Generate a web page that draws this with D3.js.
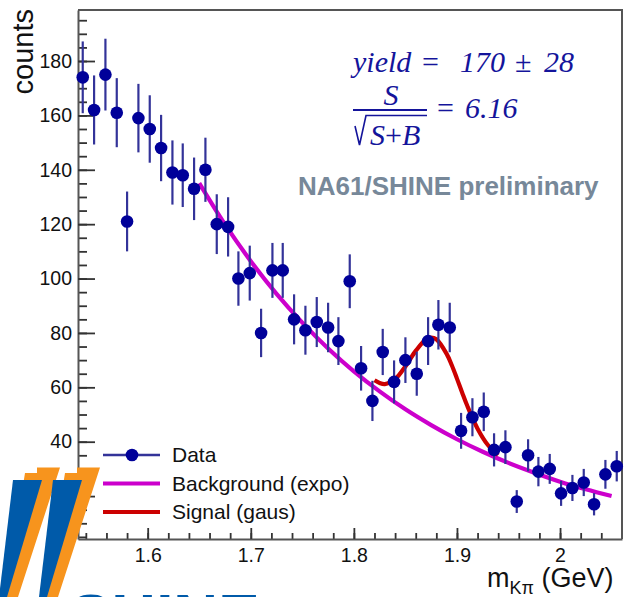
<!DOCTYPE html>
<html>
<head>
<meta charset="utf-8">
<script src="https://cdn.jsdelivr.net/npm/d3@7"></script>
<style>
  body { margin: 0; background: #fff; }
  svg { display: block; }
</style>
</head>
<body>
<svg id="chart" width="626" height="597"></svg>
<script>
// invariant mass bins (GeV) and counts
const massBins = [1.537, 1.548, 1.559, 1.570, 1.580, 1.591, 1.602, 1.613, 1.624, 1.634,
                  1.645, 1.656, 1.667, 1.678, 1.688, 1.699, 1.710, 1.721, 1.731, 1.742,
                  1.753, 1.764, 1.775, 1.785, 1.796, 1.807, 1.818, 1.828, 1.839, 1.850,
                  1.861, 1.872, 1.882, 1.893, 1.904, 1.915, 1.926, 1.936, 1.947, 1.958,
                  1.969, 1.979, 1.990, 2.001, 2.012, 2.023, 2.033, 2.044, 2.055];
const counts = [174, 162, 175, 161, 121, 159, 155, 148, 139, 138,
                133, 140, 120, 119, 100, 102, 80, 103, 103, 85,
                81, 84, 82, 77, 99, 67, 55, 73, 62, 70,
                65, 77, 83, 82, 44, 49, 51, 37, 38, 18,
                35, 29, 30, 21, 23, 25, 17, 28, 31];
const countErrors = [13.2, 12.7, 13.2, 12.7, 11.0, 12.6, 12.4, 12.2, 11.8, 11.7,
                     11.5, 11.8, 11.0, 10.9, 10.0, 10.1, 8.9, 10.1, 10.1, 9.2,
                     9.0, 9.2, 9.1, 8.8, 9.9, 8.2, 7.4, 8.5, 7.9, 8.4,
                     8.1, 8.8, 9.1, 9.1, 6.6, 7.0, 7.1, 6.1, 6.2, 4.2,
                     5.9, 5.4, 5.5, 4.6, 4.8, 5.0, 4.1, 5.3, 5.6];

// background (expo) curve
const bgMass = [1.65, 1.675, 1.70, 1.725, 1.75, 1.775, 1.80, 1.825, 1.85,
                1.875, 1.90, 1.925, 1.95, 1.975, 2.00, 2.025, 2.05];
const bgCounts = [135.1, 119.9, 106.4, 94.4, 83.8, 74.3, 65.9, 58.5, 51.9,
                  46.1, 40.9, 36.3, 32.2, 28.6, 25.3, 22.5, 20.0];

// signal (gaus + background) curve
const sigMass = [1.82, 1.825, 1.83, 1.84, 1.85, 1.86, 1.87, 1.875, 1.88, 1.89, 1.895,
                 1.90, 1.905, 1.91, 1.92, 1.93, 1.94];
const sigCounts = [62.6, 61.6, 61.2, 63.0, 67.7, 73.4, 77.7, 78.3, 77.7, 72.3, 68.1,
                   63.2, 58.1, 53.2, 44.8, 38.8, 35.1];

const xTicks = [1.6, 1.7, 1.8, 1.9, 2.0];
const xTickLabels = ["1.6", "1.7", "1.8", "1.9", "2"];
const yTicks = [20, 40, 60, 80, 100, 120, 140, 160, 180];

const legendLabels = ["Data", "Background (expo)", "Signal (gaus)"];

const margin = {left: 78, top: 10, right: 4, bottom: 58};
const W = 626, H = 597;
const pw = W - margin.left - margin.right;
const ph = H - margin.top - margin.bottom;

const sans = "'Liberation Sans', Arial, sans-serif";
const serif = "'Liberation Serif', 'Times New Roman', serif";
const navy = "#000099";
const textBlue = "#14149b";

const svg = d3.select('#chart');

const xScale = d3.scaleLinear().domain([1.5324, 2.0601]).range([0, pw]);
const yScale = d3.scaleLinear().domain([4.22, 198.76]).range([ph, 0]);

const g = svg.append('g').attr('transform', `translate(${margin.left},${margin.top})`);

// frame (top and right)
g.append('path')
    .attr('d', `M0,0H${pw}V${ph}`)
    .attr('fill', 'none')
    .attr('stroke', '#555')
    .attr('stroke-width', 2);

// minor ticks
g.append('g')
    .call(d3.axisLeft(yScale).tickValues(d3.range(5, 199, 5)).tickSize(-9).tickFormat(''))
    .call(s => s.select('.domain').remove())
    .call(s => s.selectAll('line').attr('stroke', '#333').attr('stroke-width', 1.8));
g.append('g')
    .attr('transform', `translate(0,${ph})`)
    .call(d3.axisBottom(xScale).tickValues(d3.range(1.54, 2.06, 0.02)).tickSize(-6).tickFormat(''))
    .call(s => s.select('.domain').remove())
    .call(s => s.selectAll('line').attr('stroke', '#333').attr('stroke-width', 1.8));

// major ticks + labels
const yAxis = d3.axisLeft(yScale).tickValues(yTicks).tickSize(-17).tickSizeOuter(0).tickPadding(6);
g.append('g')
    .call(yAxis)
    .call(s => s.select('.domain').attr('stroke', '#555').attr('stroke-width', 2))
    .call(s => s.selectAll('line').attr('stroke', '#333').attr('stroke-width', 1.8))
    .call(s => s.selectAll('text').attr('font-family', sans).attr('font-size', 19.5).attr('fill', '#111'));

const xAxis = d3.axisBottom(xScale).tickValues(xTicks).tickSize(-11).tickSizeOuter(0).tickPadding(9)
    .tickFormat((d, i) => xTickLabels[i]);
g.append('g')
    .attr('transform', `translate(0,${ph})`)
    .call(xAxis)
    .call(s => s.select('.domain').attr('stroke', '#555').attr('stroke-width', 2))
    .call(s => s.selectAll('line').attr('stroke', '#333').attr('stroke-width', 1.8))
    .call(s => s.selectAll('text').attr('font-family', sans).attr('font-size', 19.5).attr('fill', '#111'));

// axis titles
svg.append('text')
    .attr('transform', 'translate(33,9) rotate(-90)')
    .attr('text-anchor', 'end')
    .attr('font-family', sans)
    .attr('font-size', 29)
    .attr('fill', '#111')
    .text('counts');

const xt = svg.append('text')
    .attr('x', 487).attr('y', 587)
    .attr('font-family', sans)
    .attr('font-size', 27)
    .attr('fill', '#111');
xt.append('tspan').text('m');
xt.append('tspan').attr('dy', 7).attr('font-size', 18).text('Kπ');
xt.append('tspan').attr('dy', -7).text(' (GeV)');

// fitted curves
const line = d3.line().x(d => xScale(d[0])).y(d => yScale(d[1])).curve(d3.curveCatmullRom.alpha(0.5));
g.append('path')
    .datum(bgMass.map((m, i) => [m, bgCounts[i]]))
    .attr('d', line)
    .attr('fill', 'none')
    .attr('stroke', '#cc00cc')
    .attr('stroke-width', 4.2);
g.append('path')
    .datum(sigMass.map((m, i) => [m, sigCounts[i]]))
    .attr('d', line)
    .attr('fill', 'none')
    .attr('stroke', '#cc0000')
    .attr('stroke-width', 4.2);

// data points with error bars
const pts = g.append('g');
pts.selectAll('line')
    .data(massBins)
    .enter()
    .append('line')
    .attr('x1', d => xScale(d))
    .attr('x2', d => xScale(d))
    .attr('y1', (d, i) => yScale(counts[i] - countErrors[i]))
    .attr('y2', (d, i) => yScale(counts[i] + countErrors[i]))
    .attr('stroke', '#333399')
    .attr('stroke-width', 2.2);
pts.selectAll('circle')
    .data(massBins)
    .enter()
    .append('circle')
    .attr('cx', d => xScale(d))
    .attr('cy', (d, i) => yScale(counts[i]))
    .attr('r', 6.3)
    .attr('fill', navy);

// legend
const leg = svg.append('g').attr('font-family', sans).attr('font-size', 21).attr('fill', '#111');
const legY = [455, 483.5, 512];
leg.append('line').attr('x1', 103).attr('x2', 160).attr('y1', legY[0]).attr('y2', legY[0])
    .attr('stroke', '#333399').attr('stroke-width', 2.4);
leg.append('circle').attr('cx', 132).attr('cy', legY[0]).attr('r', 6.3).attr('fill', navy);
leg.append('line').attr('x1', 103).attr('x2', 160).attr('y1', legY[1]).attr('y2', legY[1])
    .attr('stroke', '#cc00cc').attr('stroke-width', 4.2);
leg.append('line').attr('x1', 103).attr('x2', 160).attr('y1', legY[2]).attr('y2', legY[2])
    .attr('stroke', '#cc0000').attr('stroke-width', 4.2);
leg.selectAll('text')
    .data(legendLabels)
    .enter()
    .append('text')
    .attr('x', 172)
    .attr('y', (d, i) => legY[i] + 7)
    .text(d => d);

// annotations
const ann = svg.append('g').attr('fill', textBlue).attr('font-family', serif).attr('font-size', 30);
const t1 = ann.append('text').attr('y', 72);
t1.append('tspan').attr('x', 353).attr('font-style', 'italic').text('yield');
t1.append('tspan').attr('x', 422).text('=');
t1.append('tspan').attr('x', 460).attr('font-style', 'italic').text('170');
t1.append('tspan').attr('x', 515).text('±');
t1.append('tspan').attr('x', 544).attr('font-style', 'italic').text('28');

ann.append('text').attr('x', 391).attr('y', 105).attr('text-anchor', 'middle')
    .attr('font-style', 'italic').text('S');
ann.append('line').attr('x1', 353).attr('x2', 427).attr('y1', 110).attr('y2', 110)
    .attr('stroke', textBlue).attr('stroke-width', 2);
ann.append('path').attr('d', 'M355,126L359.5,145L366,115.5H427')
    .attr('fill', 'none').attr('stroke', textBlue).attr('stroke-width', 1.6);
const den = ann.append('text').attr('x', 370).attr('y', 145);
den.append('tspan').attr('font-style', 'italic').text('S');
den.append('tspan').text('+');
den.append('tspan').attr('font-style', 'italic').text('B');
const t2 = ann.append('text').attr('y', 118);
t2.append('tspan').attr('x', 437).text('=');
t2.append('tspan').attr('x', 465).attr('font-style', 'italic').text('6.16');

svg.append('text')
    .attr('x', 298).attr('y', 195)
    .attr('font-family', sans)
    .attr('font-weight', 'bold')
    .attr('font-size', 26)
    .attr('fill', '#778899')
    .text('NA61/SHINE preliminary');

// experiment logo, bottom-left corner
const logo = svg.append('g');
[0, 40].forEach(dx => {
  logo.append('polygon')
      .attr('points', [[25, 473], [37, 473], [37, 467.5], [60, 467.5], [18, 597], [5, 597]]
          .map(p => [p[0] + dx, p[1]]).join(' '))
      .attr('fill', '#f7941d');
  logo.append('polygon')
      .attr('points', [[13, 480], [42, 480], [7, 597], [-1, 597]]
          .map(p => [p[0] + dx, p[1]]).join(' '))
      .attr('fill', '#005aa9');
});
logo.append('text')
    .attr('x', 70).attr('y', 637)
    .attr('font-family', sans)
    .attr('font-weight', 'bold')
    .attr('font-size', 62)
    .attr('fill', '#005aa9')
    .text('SHINE');
</script>
</body>
</html>
